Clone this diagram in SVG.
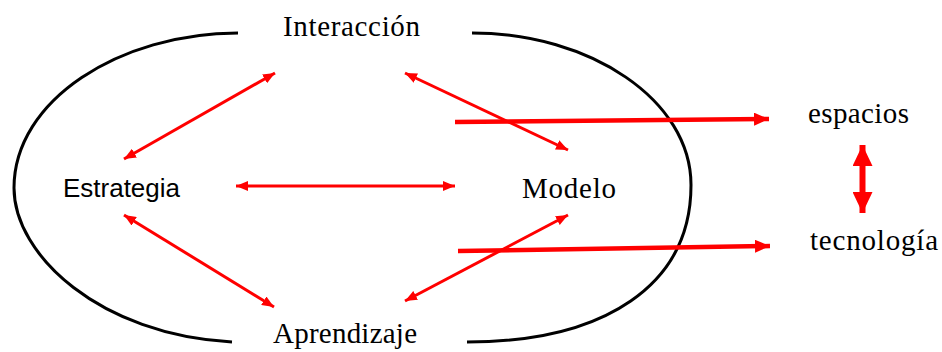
<svg xmlns="http://www.w3.org/2000/svg" width="942" height="352" viewBox="0 0 942 352">
<style>
.frame{fill:none;stroke:#000;stroke-width:3}
.t{font-family:"Liberation Serif","Times New Roman",serif;font-size:29px;fill:#000}
.s{font-family:"Liberation Sans",Arial,sans-serif;font-size:25px;fill:#000}
.a{fill:none;stroke:#ff0000;stroke-width:3;marker-start:url(#h);marker-end:url(#h)}
.b{fill:none;stroke:#ff0000;stroke-width:4.5;marker-end:url(#hb)}
.v{fill:none;stroke:#ff0000;stroke-width:6;marker-start:url(#hv);marker-end:url(#hv)}
</style>
<defs>
<marker id="h" markerUnits="userSpaceOnUse" markerWidth="12" markerHeight="10" refX="12" refY="5" orient="auto-start-reverse"><path d="M0,0 L12,5 L0,10 z" fill="#ff0000"/></marker>
<marker id="hb" markerUnits="userSpaceOnUse" markerWidth="15" markerHeight="13" refX="15" refY="6.5" orient="auto-start-reverse"><path d="M0,0 L15,6.5 L0,13 z" fill="#ff0000"/></marker>
<marker id="hv" markerUnits="userSpaceOnUse" markerWidth="21" markerHeight="20" refX="21" refY="10" orient="auto-start-reverse"><path d="M0,0 L21,10 L0,20 z" fill="#ff0000"/></marker>
</defs>
<g id="frame">
<path class="frame" d="M238,33 C120,33 14,100 14,188 C14,255 100,335 232,342"/>
<path class="frame" d="M472,33 C590,33 691,100 691,185 C691,285 605,342 467,342"/>
</g>
<g id="connectors">
<line class="a" x1="124" y1="159" x2="275" y2="73"/>
<line class="a" x1="405" y1="73" x2="568" y2="150"/>
<line class="a" x1="236" y1="186" x2="455" y2="186"/>
<line class="a" x1="124" y1="215" x2="274" y2="307"/>
<line class="a" x1="405" y1="301" x2="568" y2="215"/>
<line class="b" x1="455" y1="122" x2="769" y2="119"/>
<line class="b" x1="458" y1="251" x2="770" y2="246"/>
<line class="v" x1="862.5" y1="145" x2="862.5" y2="213"/>
</g>
<g id="interaccion"><text class="t" x="283" y="36" textLength="137" lengthAdjust="spacing">Interacción</text></g>
<g id="estrategia"><text class="s" x="63" y="197" textLength="117" lengthAdjust="spacingAndGlyphs">Estrategia</text></g>
<g id="modelo"><text class="t" x="522" y="198" textLength="94" lengthAdjust="spacing">Modelo</text></g>
<g id="aprendizaje"><text class="t" x="273" y="343" textLength="144" lengthAdjust="spacing">Aprendizaje</text></g>
<g id="espacios"><text class="t" x="808" y="123" textLength="101" lengthAdjust="spacing">espacios</text></g>
<g id="tecnologia"><text class="t" x="810" y="250" textLength="128" lengthAdjust="spacing">tecnología</text></g>
</svg>
